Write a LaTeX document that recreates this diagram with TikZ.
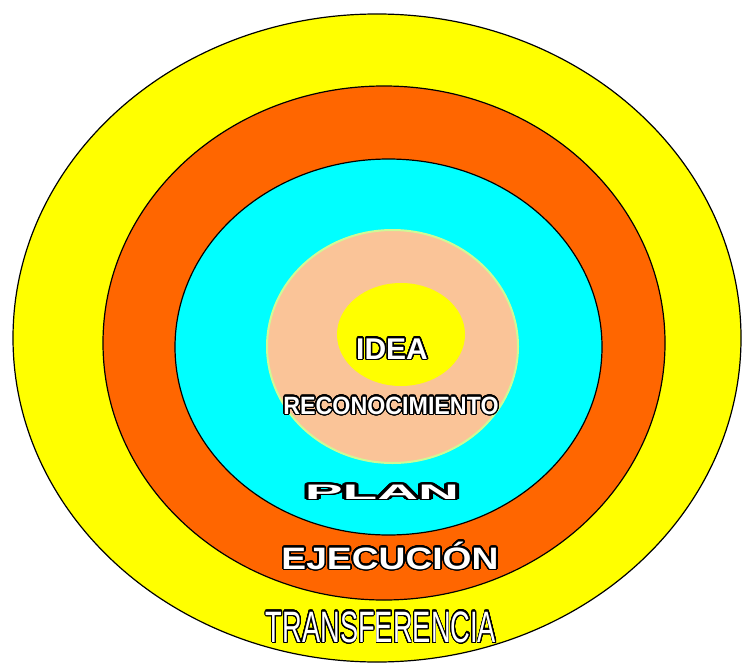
\documentclass[tikz,border=0pt]{standalone}
\usepackage{fontspec}
\setmainfont{Liberation Sans}
\usepackage{graphicx}
\usepackage{contour}
\contournumber{32}
\contourlength{0.7pt}
\usetikzlibrary{positioning}

\definecolor{ringyellow}{RGB}{255,255,0}
\definecolor{ringorange}{RGB}{255,102,0}
\definecolor{ringcyan}{RGB}{0,255,255}
\definecolor{ringpeach}{RGB}{250,196,152}
\definecolor{peachedge}{RGB}{205,250,150}

\newcommand{\outlined}[1]{{\color{white}\contour{black}{#1}}}

\begin{document}
\begin{tikzpicture}[x=0.5pt, y=-0.5pt,
    ring/.style={draw=black, line width=0.6pt},
    ringtext/.style={inner sep=0pt, anchor=base}]

    \useasboundingbox (0,0) rectangle (742,668);
    \fill[white] (0,0) rectangle (742,668);

    \draw[ring, fill=ringyellow] (377,338) ellipse [x radius=364, y radius=324];
    \draw[ring, fill=ringorange] (384,343) ellipse [x radius=281, y radius=257];
    \draw[ring, fill=ringcyan] (388.5,347) ellipse [x radius=213.5, y radius=188];
    \draw[draw=peachedge, line width=1pt, fill=ringpeach] (392.5,346.5) ellipse [x radius=125.5, y radius=116.5];
    \fill[ringyellow] (401,334.5) ellipse [x radius=64, y radius=51.5];

    \node[ringtext, font=\bfseries\fontsize{15}{15}\selectfont] (idea) at (392,359) {\outlined{IDEA}};
    \node[ringtext, font=\bfseries\fontsize{12.5}{12.5}\selectfont] (recon) at (391,414) {\scalebox{0.93}[1]{\outlined{RECONOCIMIENTO}}};
    \node[ringtext, font=\bfseries\fontsize{10.5}{10.5}\selectfont] (plan) at (382,499) {\scalebox{2.7}[1]{\outlined{PLAN}}};
    \node[ringtext, font=\bfseries\fontsize{15.5}{15.5}\selectfont] (ejec) at (390,569) {\scalebox{1.2}[1]{\outlined{EJECUCIÓN}}};
    \node[ringtext, font=\fontsize{22}{22}\selectfont] (transf) at (381,642) {\scalebox{0.62}[1]{\outlined{TRANSFERENCIA}}};
\end{tikzpicture}
\end{document}
